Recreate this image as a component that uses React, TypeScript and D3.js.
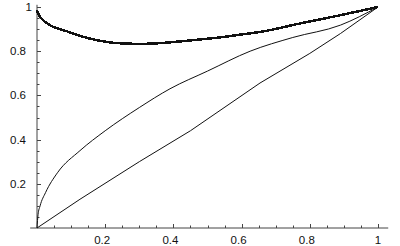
import { useEffect, useRef } from "react";
import * as d3 from "d3";

// thick curve (x, y)
const thickX = [0, 0.006, 0.016, 0.038, 0.088, 0.135, 0.176, 0.223, 0.3, 0.355, 0.425, 0.47, 0.535, 0.6, 0.654, 0.77, 0.89, 1];
const thickY = [0.985, 0.962, 0.943, 0.918, 0.89, 0.865, 0.85, 0.838, 0.833, 0.836, 0.845, 0.852, 0.862, 0.876, 0.887, 0.925, 0.963, 1];

// upper thin curve
const upperX = [0, 0.003, 0.009, 0.025, 0.06, 0.126, 0.2, 0.3, 0.39, 0.5, 0.625, 0.75, 0.89, 1];
const upperY = [0, 0.06, 0.1, 0.16, 0.25, 0.35, 0.44, 0.545, 0.63, 0.71, 0.8, 0.862, 0.918, 1];

// lower thin line
const lowerX = [0, 0.126, 0.3, 0.45, 0.654, 0.8, 0.89, 1];
const lowerY = [0, 0.13, 0.3, 0.44, 0.656, 0.79, 0.88, 1];

const majorTicks = [0.2, 0.4, 0.6, 0.8, 1];
const tickLabels = ["0.2", "0.4", "0.6", "0.8", "1"];

export default function App() {
  const svgRef = useRef<SVGSVGElement>(null);

  useEffect(() => {
    const width = 400;
    const height = 246;
    const svg = d3.select(svgRef.current);
    svg.selectAll("*").remove();

    const x = d3.scaleLinear().domain([0, 1]).range([37, 378]);
    const y = d3.scaleLinear().domain([0, 1]).range([228, 7]);

    const minorTicks = d3.range(1, 21).map((i) => i * 0.05);
    const axisColor = "#444";

    // axes lines
    svg
      .append("line")
      .attr("x1", x(-0.02))
      .attr("x2", x(1.03))
      .attr("y1", y(0))
      .attr("y2", y(0))
      .attr("stroke", axisColor);
    svg
      .append("line")
      .attr("x1", x(0))
      .attr("x2", x(0))
      .attr("y1", y(0))
      .attr("y2", y(1.01))
      .attr("stroke", axisColor);

    const isMajor = (t: number) => Math.abs(t * 5 - Math.round(t * 5)) < 1e-6;

    // x ticks
    svg
      .append("g")
      .selectAll("line")
      .data(minorTicks)
      .join("line")
      .attr("x1", (d) => Math.round(x(d)) + 0.5)
      .attr("x2", (d) => Math.round(x(d)) + 0.5)
      .attr("y1", y(0))
      .attr("y2", (d) => y(0) - (isMajor(d) ? 4 : 2.5))
      .attr("stroke", axisColor);

    // y ticks
    svg
      .append("g")
      .selectAll("line")
      .data(minorTicks)
      .join("line")
      .attr("y1", (d) => Math.round(y(d)) + 0.5)
      .attr("y2", (d) => Math.round(y(d)) + 0.5)
      .attr("x1", x(0))
      .attr("x2", (d) => x(0) + (isMajor(d) ? 4 : 2.5))
      .attr("stroke", axisColor);

    // tick labels
    svg
      .append("g")
      .selectAll("text")
      .data(majorTicks)
      .join("text")
      .attr("x", (d, i) => x(d) - (tickLabels[i] === "1" ? 0 : 3))
      .attr("y", 244)
      .attr("text-anchor", "middle")
      .text((d, i) => tickLabels[i]);

    svg
      .append("g")
      .selectAll("text")
      .data(majorTicks)
      .join("text")
      .attr("x", (d, i) => (tickLabels[i] === "1" ? 32 : 26))
      .attr("y", (d) => y(d) + 4)
      .attr("text-anchor", "end")
      .text((d, i) => tickLabels[i]);

    svg
      .selectAll("text")
      .attr("font-family", "'Liberation Sans', Arial, sans-serif")
      .attr("font-size", "11.5px")
      .attr("fill", "#111");

    const toPoints = (xs: number[], ys: number[]) => xs.map((v, i) => [v, ys[i]] as [number, number]);

    const line = d3
      .line<[number, number]>()
      .x((d) => x(d[0]))
      .y((d) => y(d[1]));

    svg
      .append("path")
      .datum(toPoints(lowerX, lowerY))
      .attr("fill", "none")
      .attr("stroke", "#111")
      .attr("stroke-width", 1)
      .attr("d", line);

    svg
      .append("path")
      .datum(toPoints(upperX, upperY))
      .attr("fill", "none")
      .attr("stroke", "#111")
      .attr("stroke-width", 1)
      .attr("d", line.curve(d3.curveMonotoneX));

    svg
      .append("path")
      .datum(toPoints(thickX, thickY))
      .attr("fill", "none")
      .attr("stroke", "#111")
      .attr("stroke-width", 2.5)
      .attr("shape-rendering", "crispEdges")
      .attr("d", line.curve(d3.curveMonotoneX));

    svg.attr("width", width).attr("height", height);
  }, []);

  return (
    <div style={{ position: "absolute", left: 0, top: 0, width: 400, height: 246, background: "#fff" }}>
      <svg ref={svgRef}></svg>
    </div>
  );
}
